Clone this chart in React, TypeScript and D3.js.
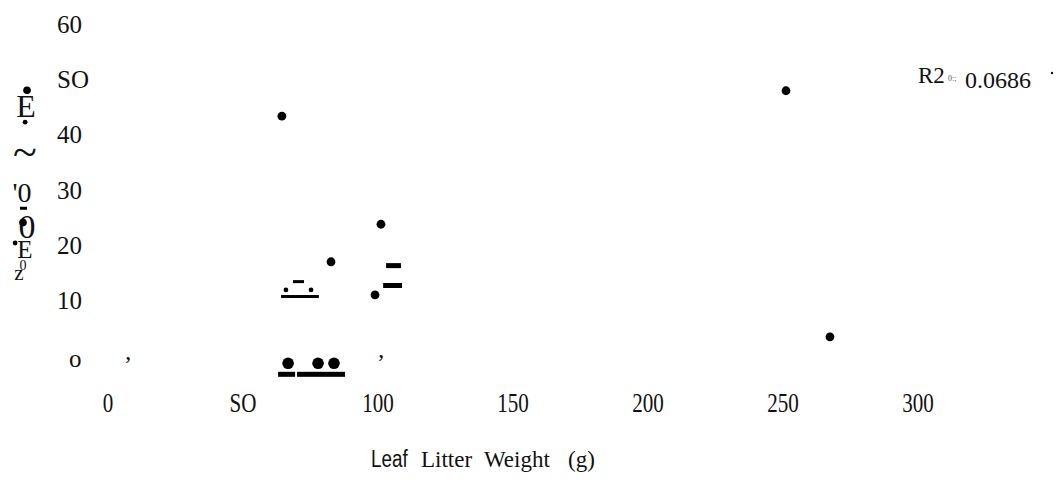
import React from 'react';
import * as d3 from 'd3';

// tick labels as they appear on the scanned figure
const xTickValues = [0, 50, 100, 150, 200, 250, 300];
const xTickLabels = ['0', 'SO', '100', '150', '200', '250', '300'];
const yTickValues = [60, 50, 40, 30, 20, 10, 0];
const yTickLabels = ['60', 'SO', '40', '30', '20', '10', 'o'];

// main points [x, y]
const points: [number, number][] = [
  [64.4, 43.3],
  [251.1, 47.9],
  [101.1, 23.7],
  [82.6, 16.9],
  [98.9, 10.9],
  [267.4, 3.3],
];
// larger points sitting on the baseline
const bigPoints: [number, number][] = [
  [66.7, -1.5],
  [77.8, -1.5],
  [83.7, -1.5],
];
// small points
const smallPoints: [number, number][] = [
  [65.9, 11.8],
  [75.2, 11.8],
  [-30.7, 42.2],
  [-34.4, 20.3],
];
// medium stray points next to the y label
const strayPoints: [number, number][] = [
  [-30, 48.0],
  [-31.5, 24.0],
];
// short bars [x0, x1, y, thickness px]
const bars: [number, number, number, number][] = [
  [68.5, 72.6, 13.3, 3],
  [64.1, 78.1, 10.6, 3],
  [103.0, 108.5, 16.2, 5],
  [101.9, 108.9, 12.6, 5],
  [63.0, 69.3, -3.5, 5],
  [70.0, 87.8, -3.5, 5],
  [-32.6, -30, 26.6, 3],
];
// stray commas [x, y]
const commas: [number, number][] = [
  [5.9, -0.9],
  [99.6, -0.6],
];

const width = 1058;
const height = 485;

const x = d3.scaleLinear().domain([0, 300]).range([108, 918]);
const y = d3.scaleLinear().domain([0, 60]).range([355, 24]);

const serif = '"Liberation Serif", "Times New Roman", serif';

export default function App() {
  return (
    <svg
      width={width}
      height={height}
      style={{ position: 'absolute', left: 0, top: 0, background: '#fff' }}
      fontFamily={serif}
    >
      {/* y tick labels */}
      {yTickValues.map((v, i) => (
        <text
          key={'y' + i}
          x={i === 6 ? 69 : 57}
          y={y(v) + (i === 6 ? 12 : 9)}
          fontSize={25}
          fill="#111"
        >
          {yTickLabels[i]}
        </text>
      ))}

      {/* x tick labels (slightly condensed) */}
      {xTickValues.map((v, i) => (
        <text
          key={'x' + i}
          transform={`translate(${x(v)},412) scale(0.78,1)`}
          textAnchor="middle"
          fontSize={27}
          fill="#111"
        >
          {xTickLabels[i]}
        </text>
      ))}

      {/* garbled y axis title */}
      <g fill="#111" textAnchor="middle">
        <text x={26} y={117} fontSize={32}>E</text>
        <text x={25} y={167} fontSize={44}>~</text>
        <text x={22} y={202} fontSize={28}>'0</text>
        <text x={27} y={238} fontSize={34}>0</text>
        <text x={25} y={258} fontSize={25}>E</text>
        <text x={23} y={270} fontSize={14}>0</text>
        <text x={19} y={280} fontSize={21}>z</text>
      </g>

      {/* bars */}
      {bars.map((b, i) => (
        <rect
          key={'b' + i}
          x={x(b[0])}
          y={y(b[2]) - b[3] / 2}
          width={x(b[1]) - x(b[0])}
          height={b[3]}
          fill="#000"
        />
      ))}

      {points.map((p, i) => (
        <circle key={'p' + i} cx={x(p[0])} cy={y(p[1])} r={4.4} fill="#000" />
      ))}
      {bigPoints.map((p, i) => (
        <circle key={'g' + i} cx={x(p[0])} cy={y(p[1])} r={5.8} fill="#000" />
      ))}
      {smallPoints.map((p, i) => (
        <circle key={'s' + i} cx={x(p[0])} cy={y(p[1])} r={2.4} fill="#000" />
      ))}
      {strayPoints.map((p, i) => (
        <circle key={'t' + i} cx={x(p[0])} cy={y(p[1])} r={3.8} fill="#000" />
      ))}

      {commas.map((c, i) => (
        <text key={'c' + i} x={x(c[0])} y={y(c[1]) + 12} fontSize={24} fill="#111">
          ’
        </text>
      ))}

      {/* R squared annotation */}
      <text x={918} y={83} fontSize={23} fill="#111">R2</text>
      <text x={948} y={81} fontSize={8} fill="#555">0:;</text>
      <text x={965} y={88} fontSize={24} fill="#111">0.0686</text>
      <circle cx={1052} cy={73} r={1.2} fill="#111" />

      {/* x axis title */}
      <text
        fontSize={23}
        fill="#111"
        fontFamily='"Liberation Sans Narrow", "Liberation Sans", Arial, sans-serif'
        transform="translate(371,467) scale(0.82,1)"
      >
        Leaf
      </text>
      <text x={421} y={467} fontSize={23} fill="#111">Litter</text>
      <text x={484} y={467} fontSize={23} fill="#111">Weight</text>
      <text x={568} y={467} fontSize={23} fill="#111">(g)</text>
    </svg>
  );
}
